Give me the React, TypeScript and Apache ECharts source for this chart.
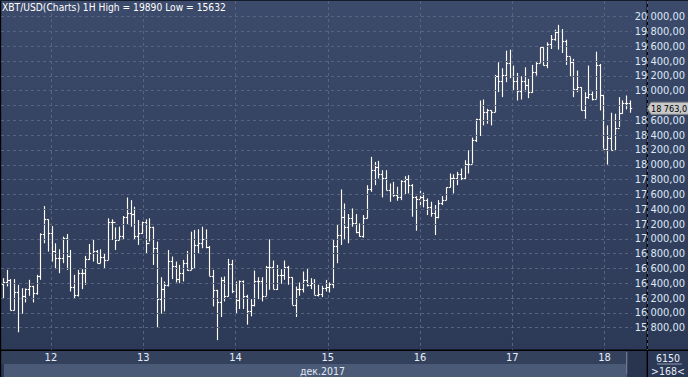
import React, { useEffect, useRef } from 'react';
import * as echarts from 'echarts';

const FONT = '"Liberation Sans Narrow", "Arial Narrow", "DejaVu Sans Condensed", "Liberation Sans", Arial, sans-serif';

const titleText = 'XBT/USD(Charts) 1H High = 19890 Low = 15632';
const monthLabel = 'дек.2017';
const volumeText = '6150';
const barsText = '>168<';
const lastPriceText = '18 763,0';
const firstDay = 11;
const firstHour = 11;

const openP = [
  16388, 16415, 16447, 16043, 16276, 16195, 16222, 16321, 16357, 16267,
  16500, 17066, 17263, 17075, 16841, 16738, 16738, 17016, 16770, 16348,
  16245, 16545, 16545, 16725, 16814, 16841, 16680, 16761, 16716, 17232,
  17223, 16985, 17043, 17299, 17344, 17335, 17039, 17075, 17232, 16949,
  17155, 16873, 16186, 16321, 16379, 16702, 16635, 16456, 16536, 16680,
  16581, 16604, 16918, 16949, 16994, 16895, 16500, 16312, 16141, 16438,
  16222, 16662, 16289, 16168, 16433, 16231, 16020, 16110, 16424, 16424,
  16231, 16617, 16617, 16321, 16514, 16514, 16617, 16482, 16110, 16321,
  16321, 16438, 16379, 16402, 16245, 16258, 16334, 16348, 16393, 16909,
  17052, 17290, 17155, 17277, 17218, 17097, 17039, 17286, 17667, 17936,
  17972, 17873, 17828, 17658, 17604, 17591, 17559, 17784, 17802, 17725,
  17559, 17532, 17559, 17523, 17425, 17353, 17290, 17478, 17523, 17694,
  17828, 17828, 17873, 17828, 18008, 18017, 18340, 18613, 18801, 18712,
  18734, 18712, 19205, 19138, 19214, 19376, 19196, 19138, 19003, 19138,
  19080, 18981, 19250, 19376, 19587, 19349, 19632, 19699, 19798, 19811,
  19676, 19466, 19385, 19017, 19048, 18734, 18914, 18959, 18891, 19349,
  18945, 18218, 18362, 18196, 18496, 18703, 18837, 18837,
];

const highP = [
  16469, 16581, 16456, 16456, 16379, 16334, 16330, 16447, 16366, 16514,
  17075, 17443, 17263, 17173, 16940, 16859, 17030, 17066, 16850, 16514,
  16581, 16590, 16770, 16931, 16985, 16850, 16859, 16805, 17277, 17263,
  17155, 17164, 17308, 17559, 17523, 17434, 17254, 17232, 17263, 17277,
  17164, 16963, 16482, 16424, 16850, 16761, 16693, 16648, 16716, 16837,
  17097, 17120, 17129, 17164, 17129, 16904, 16581, 16312, 16482, 16491,
  16729, 16716, 16424, 16438, 16438, 16245, 16186, 16572, 16482, 16482,
  16635, 16994, 16707, 16648, 16590, 16707, 16635, 16482, 16357, 16411,
  16559, 16604, 16469, 16456, 16379, 16366, 16446, 16411, 16994, 17200,
  17667, 17478, 17335, 17411, 17335, 17209, 17321, 17725, 18107, 18039,
  18053, 17927, 17927, 17748, 17770, 17703, 17793, 17846, 17860, 17739,
  17577, 17649, 17622, 17546, 17501, 17456, 17523, 17577, 17694, 17882,
  17873, 17905, 17950, 18062, 18196, 18367, 18622, 18869, 18882, 18757,
  18734, 19214, 19385, 19304, 19542, 19555, 19340, 19241, 19196, 19318,
  19160, 19349, 19385, 19587, 19587, 19654, 19753, 19825, 19890, 19834,
  19690, 19452, 19430, 19273, 19048, 18981, 19340, 18990, 19528, 19362,
  18945, 18532, 18703, 18689, 18914, 18869, 18936, 18869,
];

const lowP = [
  16195, 16357, 16034, 16034, 15738, 15989, 16141, 16231, 16141, 16245,
  16447, 16940, 16828, 16693, 16590, 16536, 16671, 16581, 16289, 16200,
  16222, 16321, 16379, 16716, 16693, 16671, 16671, 16604, 16716, 16985,
  16850, 16985, 16994, 17187, 17164, 16985, 16918, 17066, 16796, 16963,
  16648, 15796, 15989, 16020, 16357, 16456, 16411, 16402, 16424, 16572,
  16581, 16600, 16805, 16873, 16873, 16500, 16088, 15632, 15944, 16155,
  16222, 16267, 15989, 16052, 16052, 15841, 15953, 16088, 16186, 16155,
  16231, 16312, 16321, 16310, 16393, 16447, 16379, 16110, 15944, 16231,
  16276, 16357, 16321, 16245, 16222, 16213, 16289, 16276, 16334, 16671,
  16918, 16985, 16940, 17164, 17075, 17030, 17016, 17277, 17635, 17725,
  17815, 17559, 17658, 17501, 17568, 17514, 17523, 17604, 17613, 17299,
  17110, 17456, 17425, 17321, 17299, 17052, 17277, 17456, 17523, 17694,
  17613, 17725, 17793, 17801, 17882, 18017, 18308, 18389, 18532, 18555,
  18532, 18712, 18981, 18914, 19116, 19169, 19003, 18869, 18882, 18990,
  18900, 18972, 19205, 19376, 19340, 19304, 19564, 19676, 19555, 19510,
  19349, 19196, 18914, 18981, 18734, 18622, 18891, 18869, 18891, 18734,
  18218, 18003, 18196, 18196, 18510, 18689, 18748, 18703,
];

const closeP = [
  16415, 16447, 16043, 16276, 16195, 16222, 16321, 16357, 16267, 16500,
  17066, 17263, 17075, 16841, 16738, 16738, 17016, 16770, 16348, 16245,
  16545, 16545, 16725, 16814, 16841, 16680, 16761, 16716, 17232, 17223,
  16985, 17043, 17299, 17344, 17335, 17039, 17075, 17232, 16949, 17155,
  16873, 16186, 16321, 16379, 16702, 16635, 16456, 16536, 16680, 16581,
  16604, 16918, 16949, 16994, 16895, 16500, 16312, 16141, 16438, 16222,
  16662, 16289, 16168, 16433, 16231, 16020, 16110, 16424, 16424, 16231,
  16617, 16617, 16321, 16514, 16514, 16617, 16482, 16110, 16321, 16321,
  16438, 16379, 16402, 16245, 16258, 16334, 16348, 16393, 16909, 17052,
  17290, 17155, 17277, 17218, 17097, 17039, 17286, 17667, 17936, 17972,
  17873, 17828, 17658, 17604, 17591, 17559, 17784, 17802, 17725, 17559,
  17532, 17559, 17523, 17425, 17353, 17290, 17478, 17523, 17694, 17828,
  17828, 17873, 17828, 18008, 18017, 18340, 18613, 18801, 18712, 18734,
  18712, 19205, 19138, 19214, 19376, 19196, 19138, 19003, 19138, 19080,
  18981, 19250, 19376, 19587, 19349, 19632, 19699, 19798, 19811, 19676,
  19466, 19385, 19017, 19048, 18734, 18914, 18959, 18891, 19349, 18945,
  18218, 18362, 18196, 18496, 18703, 18837, 18837, 18763,
];

const categories: string[] = [];
for (let i = 0; i < closeP.length; i++) {
  const t = firstHour + i;
  const day = firstDay + Math.floor(t / 24);
  const hour = t % 24;
  categories.push(`${day}.12 ${String(hour).padStart(2, '0')}:00`);
}

const BAR = '#fffaf2';
const GRID_LINE = '#56657f';
const LABEL = '#dde7f5';
const lastClose = closeP[closeP.length - 1];

const fmtPrice = (v: number) => {
  const t = Math.floor(v / 1000);
  const r = String(Math.round(v % 1000)).padStart(3, '0');
  return `${t} ${r},00`;
};

const isDayStart = (val: string) => val.endsWith(' 00:00');

export default function App() {
  const ref = useRef<HTMLDivElement>(null);

  useEffect(() => {
    if (!ref.current) return;
    const chart = echarts.init(ref.current, undefined, { renderer: 'svg' });

    const seriesData = closeP.map((c, i) => [i, openP[i], highP[i], lowP[i], c]);

    const baseGraphics: any[] = [
      { id: 'band', type: 'rect', z: 1, shape: { x: 1, y: 351, width: 646, height: 13 }, style: { fill: '#33415d' } },
      { id: 'strip', type: 'rect', z: 1, shape: { x: 4, y: 364, width: 623, height: 13 }, style: { fill: '#4a5a77' } },
      { id: 'stripSep', type: 'rect', z: 2, shape: { x: 626, y: 352, width: 1.2, height: 22 }, style: { fill: '#6b778f' } },
      { id: 'darkBox', type: 'rect', z: 1, shape: { x: 628, y: 351, width: 18.5, height: 26 }, style: { fill: '#29354f' } },
      { id: 'leftBorder', type: 'rect', z: 3, shape: { x: 0, y: 0, width: 1.2, height: 377 }, style: { fill: '#000' } },
      { id: 'topBorder', type: 'rect', z: 3, shape: { x: 0, y: 0, width: 688, height: 1 }, style: { fill: '#141c2c' } },
      { id: 'vSep', type: 'rect', z: 3, shape: { x: 646.6, y: 0, width: 1.4, height: 377 }, style: { fill: '#000' } },
      { id: 'hSep', type: 'rect', z: 3, shape: { x: 0, y: 349.4, width: 688, height: 1.6 }, style: { fill: '#000' } },
      {
        id: 'title', type: 'text', z: 20, x: 2, y: 2,
        style: { text: titleText, fill: '#ffffff', font: `10.2px ${FONT}`, textVerticalAlign: 'top' },
      },
      {
        id: 'month', type: 'text', z: 20, x: 345, y: 371,
        style: { text: monthLabel, fill: '#e2e9f4', font: `10.5px ${FONT}`, textAlign: 'right', textVerticalAlign: 'middle' },
      },
      {
        id: 'vol', type: 'text', z: 20, x: 668, y: 357.5,
        style: { text: volumeText, fill: '#e8eef8', font: `10.5px ${FONT}`, textAlign: 'center', textVerticalAlign: 'middle' },
      },
      { id: 'volLine', type: 'rect', z: 20, shape: { x: 657, y: 363.5, width: 25, height: 1 }, style: { fill: '#8f9ab0' } },
      {
        id: 'bars', type: 'text', z: 20, x: 668, y: 370.5,
        style: { text: barsText, fill: '#e8eef8', font: `10.5px ${FONT}`, textAlign: 'center', textVerticalAlign: 'middle' },
      },
    ];

    const option: any = {
      animation: false,
      backgroundColor: new echarts.graphic.LinearGradient(0, 0, 0, 1, [
        { offset: 0, color: '#3c4a6b' },
        { offset: 1, color: '#2b3855' },
      ]),
      textStyle: { fontFamily: FONT },
      grid: [
        { left: 1, right: 41, top: 16.7, bottom: 49.3, containLabel: false },
        { left: 1, right: 41, top: 1, bottom: 27, containLabel: false },
      ],
      xAxis: [
        {
          type: 'category', gridIndex: 0, data: categories, boundaryGap: true,
          show: false,
        },
        {
          type: 'category', gridIndex: 1, data: categories, boundaryGap: true, z: 10,
          axisLine: { show: false },
          axisTick: { show: false },
          axisLabel: {
            interval: (i: number, val: string) => isDayStart(val),
            formatter: (val: string) => (isDayStart(val) ? String(parseInt(val, 10)) : ''),
            color: '#e6edf8', fontSize: 11, fontFamily: FONT, margin: 2,
            padding: [0, 4, 0, 0],
          },
          splitLine: {
            show: true,
            interval: (i: number, val: string) => isDayStart(val),
            lineStyle: { color: GRID_LINE, type: [3, 3], width: 1 },
          },
        },
      ],
      yAxis: [
        {
          type: 'value', gridIndex: 0, position: 'right', min: 15800, max: 20000, interval: 200, z: 10,
          axisLine: { show: false },
          axisTick: { show: false },
          axisLabel: {
            margin: 3, color: LABEL, fontSize: 11, fontFamily: FONT, align: 'left',
            formatter: (v: number) => (Math.abs(v - lastClose) < 100 ? '' : fmtPrice(v)),
          },
          splitLine: { show: true, lineStyle: { color: GRID_LINE, type: [3, 3], width: 1 } },
        },
        {
          type: 'value', gridIndex: 1, min: 0, max: 1, show: false,
          splitLine: { show: false },
        },
      ],
      series: [
        {
          type: 'custom',
          xAxisIndex: 0,
          yAxisIndex: 0,
          clip: false,
          encode: { x: 0, y: [1, 2, 3, 4] },
          data: seriesData,
          renderItem: (params: any, api: any) => {
            const idx = api.value(0);
            const po = api.coord([idx, api.value(1)]);
            const ph = api.coord([idx, api.value(2)]);
            const pl = api.coord([idx, api.value(3)]);
            const pc = api.coord([idx, api.value(4)]);
            const bw = api.size([1, 0])[0];
            const x = Math.round(po[0]) + 0.5;
            const t = Math.max(1.5, bw * 0.45);
            const style = { stroke: BAR, lineWidth: 1.15 };
            const yo = Math.round(po[1]) + 0.5;
            const yc = Math.round(pc[1]) + 0.5;
            return {
              type: 'group',
              children: [
                { type: 'line', shape: { x1: x, y1: ph[1], x2: x, y2: pl[1] }, style },
                { type: 'line', shape: { x1: x - t, y1: yo, x2: x, y2: yo }, style },
                { type: 'line', shape: { x1: x, y1: yc, x2: x + t, y2: yc }, style },
              ],
            };
          },
        },
      ],
      graphic: baseGraphics,
    };

    chart.setOption(option);

    const py = chart.convertToPixel({ yAxisIndex: 0 } as any, lastClose) as number;
    const priceGraphics = [
      {
        id: 'priceBox', type: 'polygon', z: 25,
        shape: { points: [[647.5, py], [651, py - 6], [690, py - 6], [690, py + 6], [651, py + 6]] },
        style: { fill: '#c9c9c9', stroke: '#8a8a8a', lineWidth: 1 },
      },
      {
        id: 'priceText', type: 'text', z: 26, x: 651, y: py + 0.5,
        style: { text: lastPriceText, fill: '#000000', font: `9px ${FONT}`, textVerticalAlign: 'middle' },
      },
    ];
    chart.setOption({ graphic: [...baseGraphics, ...priceGraphics] });

    return () => {
      chart.dispose();
    };
  }, []);

  return (
    <div
      ref={ref}
      style={{ position: 'absolute', left: 0, top: 0, width: 688, height: 377 }}
    />
  );
}
